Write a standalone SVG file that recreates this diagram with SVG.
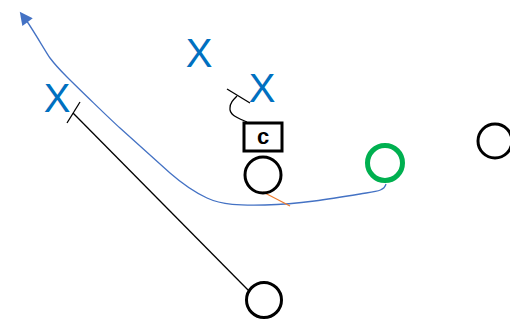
<svg xmlns="http://www.w3.org/2000/svg" width="510" height="321" viewBox="0 0 510 321">
<style>
.x{font-family:"Liberation Sans",Arial,sans-serif;font-size:40px;fill:#0070C0;text-anchor:middle}
.pl{fill:none;stroke:#000;stroke-width:3}
.ln{fill:none;stroke:#000;stroke-width:1.3}
</style>
<defs>
<marker id="ah" viewBox="0 0 10 10" refX="2" refY="5" markerWidth="15" markerHeight="13" orient="auto" markerUnits="userSpaceOnUse">
<path d="M0,0 L10,5 L0,10 z" fill="#4472C4"/>
</marker>
</defs>
<rect width="510" height="321" fill="#fff"/>
<g id="connectors">
<path d="M386,184 C384,191 378,191 360,194 C330,199 300,204 265,205 C240,205.5 222,205 207,198 S178,180 170,173 S128,135 120,128 S75,85 67,77 S53,62 50,58 S32,28 26,20" fill="none" stroke="#4472C4" stroke-width="1.3" marker-end="url(#ah)"/>
<line x1="250" y1="292" x2="73" y2="113" class="ln"/>
<line x1="67" y1="123" x2="80" y2="102" class="ln"/>
<path d="M247,122 C238,118 229,115 230,108 C230,103 233,100 237,96" class="ln"/>
<line x1="227" y1="89" x2="250" y2="103" class="ln"/>
<line x1="263" y1="192" x2="290" y2="206" stroke="#ED7D31" stroke-width="1.3"/>
</g>
<g id="x1"><text class="x" x="199" y="67">X</text></g>
<g id="x2"><text class="x" x="262" y="102">X</text></g>
<g id="x3"><text class="x" x="57" y="112">X</text></g>
<g id="c"><rect x="244" y="123" width="38" height="28" class="pl"/><text x="263" y="144" font-family="Liberation Sans,Arial,sans-serif" font-weight="bold" font-size="22" text-anchor="middle">c</text></g>
<g id="circle-mid"><circle cx="263" cy="175" r="18" class="pl"/></g>
<g id="circle-bottom"><circle cx="264" cy="300" r="17.5" class="pl"/></g>
<g id="circle-right"><circle cx="495" cy="141" r="17" class="pl"/></g>
<g id="circle-green"><circle cx="385" cy="163" r="17.5" fill="none" stroke="#00B050" stroke-width="5"/></g>
</svg>
